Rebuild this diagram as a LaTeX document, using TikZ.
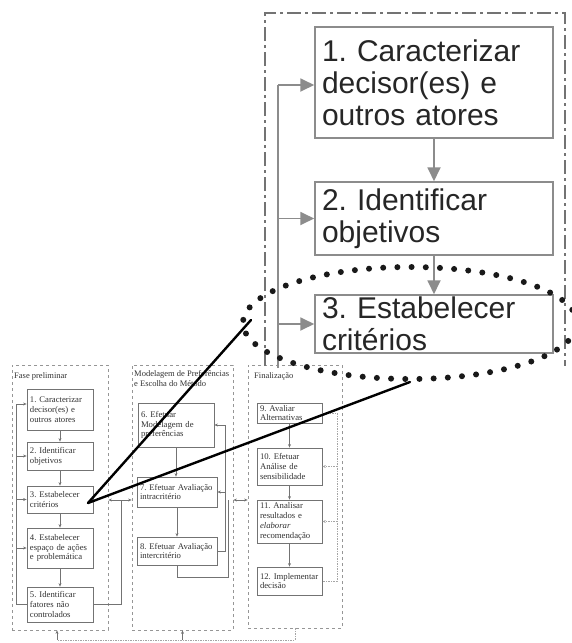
\documentclass[tikz,border=0pt]{standalone}
\usepackage{fontspec}
\setmainfont{Liberation Serif}
\newfontfamily\insetfont{Liberation Sans}
\usetikzlibrary{arrows.meta,shapes.geometric,calc}
\definecolor{sboxc}{RGB}{115,115,115}
\definecolor{stxt}{RGB}{50,50,50}
\definecolor{panelc}{RGB}{150,150,150}
\definecolor{lightc}{RGB}{165,165,165}
\definecolor{insc}{RGB}{140,140,140}
\definecolor{framec}{RGB}{115,115,115}
\frenchspacing
\hyphenpenalty=10000
\exhyphenpenalty=10000
\begin{document}
\begin{tikzpicture}[x=1pt,y=-1pt,
  panel/.style={draw=panelc, line width=0.8pt, dash pattern=on 3pt off 3pt, minimum height=265pt, inner sep=0pt},
  sbox/.style={draw=sboxc, line width=0.8pt, text=stxt, font=\fontsize{8.7}{9.8}\selectfont, align=left, inner xsep=3pt, inner ysep=1pt},
  ttl/.style={text=stxt, font=\fontsize{8.5}{10}\selectfont, inner sep=0pt, align=left},
  sline/.style={draw=sboxc, line width=0.6pt},
  sarr/.style={draw=sboxc, line width=0.6pt, -{Stealth[length=3.5pt,width=3pt]}},
  sdarr/.style={draw=sboxc, line width=0.6pt, {Stealth[length=3.5pt,width=3pt]}-{Stealth[length=3.5pt,width=3pt]}},
  dline/.style={draw=lightc, line width=0.6pt, dash pattern=on 1.5pt off 1pt},
  darr/.style={draw=lightc, line width=0.6pt, dash pattern=on 1.5pt off 1pt, -{Stealth[length=3.5pt,width=3pt,sep=0pt]}},
  ibox/.style={draw=insc, line width=1.5pt, text=black!85, font=\insetfont\fontsize{30}{32}\selectfont, align=left, inner xsep=7pt, inner ysep=1pt, minimum width=238pt, text width=224pt},
  iline/.style={draw=insc, line width=1.8pt},
  iarr/.style={draw=insc, line width=1.8pt, -{Triangle[length=14pt,width=13pt]}},
  ring/.style={ellipse, draw=black!90, line width=6pt, dash pattern=on 0pt off 14.2pt, line cap=round, minimum width=334pt, minimum height=112pt, inner sep=0pt},
  zline/.style={draw=black, line width=2.4pt, line cap=round}]
\useasboundingbox (0,0) rectangle (572,643);

% ---------- small diagram: panels ----------
\node[panel, minimum width=96pt] (p1) at (60,497.5) {};
\node[panel, minimum width=101pt] (p2) at (182.5,497.5) {};
\node[panel, minimum width=94pt, minimum height=263pt] (p3) at (295,496.5) {};
\node[ttl, anchor=west] (t1) at (14,376) {Fase preliminar};
\node[ttl, anchor=north west] (t2) at (134,370.5) {Modelagem de Preferências\\e Escolha do Método};
\node[ttl, anchor=west] (t3) at (254,376) {Finalização};

% panel 1 boxes
\node[sbox, minimum width=66pt, text width=60pt, minimum height=41pt] (b1) at (60,409.5) {1. Caracterizar\\decisor(es) e\\outros atores};
\node[sbox, minimum width=66pt, text width=60pt, minimum height=28pt] (b2) at (60,456) {2. Identificar\\objetivos};
\node[sbox, minimum width=66pt, text width=60pt, minimum height=27pt] (b3) at (60,499.5) {3. Estabelecer\\critérios};
\node[sbox, minimum width=66pt, text width=60pt, minimum height=40pt] (b4) at (60,548) {4. Estabelecer\\espaço de ações\\e problemática};
\node[sbox, minimum width=66pt, text width=60pt, minimum height=35pt] (b5) at (60,604.5) {5. Identificar\\fatores não\\controlados};
% panel 2 boxes
\node[sbox, minimum width=76pt, text width=70pt, minimum height=44pt] (b6) at (176,425) {6. Efetuar\\Modelagem de\\preferências};
\node[sbox, minimum width=80pt, text width=74pt, minimum height=30pt] (b7) at (177,492) {7. Efetuar Avaliação\\intracritério};
\node[sbox, minimum width=80pt, text width=74pt, minimum height=28pt] (b8) at (177,551) {8. Efetuar Avaliação\\intercritério};
% panel 3 boxes
\node[sbox, minimum width=65pt, text width=59pt, minimum height=20pt] (b9) at (289.5,413) {9. Avaliar\\Alternativas};
\node[sbox, minimum width=65pt, text width=59pt, minimum height=37pt] (b10) at (289.5,466.5) {10. Efetuar\\Análise de\\sensibilidade};
\node[sbox, minimum width=65pt, text width=59pt, minimum height=43pt] (b11) at (289.5,521.5) {11. Analisar\\resultados e\\\textit{elaborar}\\recomendação};
\node[sbox, minimum width=65pt, text width=59pt, minimum height=28pt] (b12) at (289.5,581) {12. Implementar\\decisão};

% panel 1 connectors
\draw[sarr] (b1) -- (b2);
\draw[sarr] (b2) -- (b3);
\draw[sarr] (b3) -- (b4);
\draw[sarr] (b4) -- (b5);
\coordinate (f1) at (16,404);
\draw[sline] (b5.west) -| (f1);
\draw[sarr] (f1) -- (f1 -| b1.west);
\draw[sarr] (b2.west -| f1) -- (b2.west);
\draw[sarr] (b3.west -| f1) -- (b3.west);
\draw[sarr] (b4.west -| f1) -- (b4.west);
\coordinate (j1) at (121,500);
\draw[sline] (b5.east) -| (j1);
\draw[sdarr] (p1.east |- j1) -- (p2.west |- j1);

% panel 2 connectors
\draw[sarr] (b6.south) -- (b6.south |- b7.north);
\draw[sarr] (b7) -- (b8);
\coordinate (f2) at (225,425);
\draw[sline] (b8.east) -| (f2);
\draw[sarr] (f2) -- (f2 -| b6.east);
\draw[sarr] (b7.east -| f2) -- (b7.east);
\coordinate (j2) at (228,500);
\coordinate (k2) at (228,577);
\draw[sline] (b8.south) |- (k2) -- (j2);
\draw[sdarr] (p2.east |- j2) -- (p3.west |- j2);

% panel 3 connectors
\draw[sarr] (b9) -- (b10);
\draw[sarr] (b10) -- (b11);
\draw[sarr] (b11) -- (b12);
\coordinate (f3) at (337,413);
\draw[dline] (b9.east) -- (f3) |- (b12.east);
\draw[darr] (b10.east -| f3) -- (b10.east);
\draw[darr] (b11.east -| f3) -- (b11.east);

% bottom connectors
\coordinate (bl) at (57,640);
\draw[dline] (p3.south) |- (bl);
\draw[sarr] (bl) -- (bl |- p1.south);
\draw[sarr] (p2.south |- bl) -- (p2.south);

% ---------- inset ----------
\draw[draw=framec, line width=1.6pt, dash pattern=on 14pt off 4pt on 3pt off 4pt] (265,366) -- (265,13) -- (565,13) -- (565,366);
\node[ibox, minimum height=111pt] (ib1) at (434,82.5) {1. Caracterizar\\decisor(es) e\\outros atores};
\node[ibox, minimum height=73pt] (ib2) at (434,218.5) {2. Identificar\\objetivos};
\node[ibox, minimum height=58pt] (ib3) at (434,324) {3. Estabelecer\\critérios};
\draw[iarr] (ib1) -- (ib2);
\draw[iarr] (ib2) -- (ib3);
\coordinate (ifa) at (278,368);
\coordinate (ifb) at (278,85);
\draw[iline] (ifa) -- (ifb);
\draw[iarr] (ifb) -- (ifb -| ib1.west);
\draw[iarr] (ib2.west -| ifb) -- (ib2.west);
\draw[iarr] (ib3.west -| ifb) -- (ib3.west);

% zoom ring and lines
\node[ring] (zoomring) at (410,323) {};
\coordinate (apex) at (88,503);
\coordinate (z1) at (251,320);
\draw[zline] (apex) -- (z1);
\draw[zline] (apex) -- (zoomring.south);
\end{tikzpicture}
\end{document}
